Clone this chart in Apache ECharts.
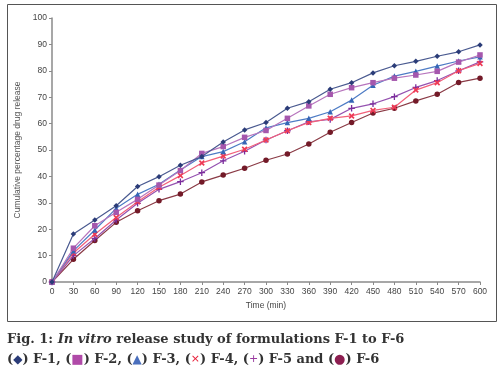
<!DOCTYPE html>
<html><head><meta charset="utf-8">
<script src="https://cdn.jsdelivr.net/npm/echarts@6/dist/echarts.min.js"></script>
<style>html,body{margin:0;padding:0;background:#fff}#c{width:500px;height:369px}</style>
</head><body><div id="c"></div>
<script>
var times = [0,30,60,90,120,150,180,210,240,270,300,330,360,390,420,450,480,510,540,570,600];
var F1 = [0,18.2,23.5,28.9,36.2,39.9,44.2,47.5,53.0,57.6,60.4,65.8,68.3,73.0,75.5,79.2,81.9,83.6,85.5,87.2,89.8];
var F2 = [0,12.8,21.3,26.4,31.3,36.7,42.2,48.7,51.3,54.8,57.4,62.0,66.7,71.1,73.6,75.5,77.2,78.4,79.8,83.3,86.0];
var F3 = [0,11.8,19.7,27.9,33.2,37.0,42.4,47.5,49.4,53.1,58.4,60.4,62.0,64.5,68.9,74.5,78.0,79.8,81.8,83.7,85.3];
var F4 = [0,11.0,18.1,24.4,30.4,35.9,40.3,45.1,47.7,50.3,53.8,57.3,60.4,62.0,62.9,65.0,66.2,72.7,75.5,80.0,82.8];
var F5 = [0,10.0,16.5,23.5,29.8,35.1,38.0,41.4,45.9,49.5,53.8,57.3,60.7,61.6,65.8,67.5,70.2,73.7,76.3,80.0,83.4];
var F6 = [0,8.6,15.7,22.6,27.0,30.8,33.3,37.9,40.5,43.1,46.1,48.5,52.3,56.7,60.4,64.0,65.8,68.6,71.1,75.6,77.2];
var names = ['F-1','F-2','F-3','F-4','F-5','F-6'];
var xTicks = {min:0,max:600,step:30};
var yTicks = {min:0,max:100,step:10};

var colors = ['#2b3c78','#a557ad','#3565b5','#ee3a55','#7b2d9c','#731a28'];
var lineColors = ['#4a5a90','#b775bd','#4e7cc5','#f2607a','#9552b0','#8a3a45'];
var symbols = ['diamond','rect','triangle',
  'path://M2,0 L5,3 L8,0 L10,2 L7,5 L10,8 L8,10 L5,7 L2,10 L0,8 L3,5 L0,2 Z',
  'path://M4,0H6V4H10V6H6V10H4V6H0V4H4Z','circle'];
var sizes = [5.5,5.5,5.5,6,6.5,5.5];
var all = [F1,F2,F3,F4,F5,F6];

var series = all.map(function(arr,i){
  return {
    name: names[i], type:'line', data: times.map(function(t,j){return [t,arr[j]];}),
    symbol: symbols[i], symbolSize: sizes[i], showSymbol:true,
    lineStyle:{color:lineColors[i], width:1.2},
    itemStyle:{color:colors[i]},
    z: 10-i, animation:false
  };
});

var chart = echarts.init(document.getElementById('c'));
chart.setOption({
  animation:false,
  grid:{left:52,right:20,top:18,bottom:87},
  xAxis:{type:'value',min:xTicks.min,max:xTicks.max,interval:xTicks.step,
    name:'Time (min)',nameLocation:'middle',nameGap:17,
    nameTextStyle:{fontFamily:'Liberation Sans',fontSize:8.5,color:'#444'},
    axisLine:{lineStyle:{color:'#8a8a8a',width:1.5}},
    axisTick:{length:3,lineStyle:{color:'#8a8a8a'}},
    axisLabel:{fontFamily:'Liberation Sans',fontSize:8.5,color:'#444',margin:5},
    splitLine:{show:false}},
  yAxis:{type:'value',min:yTicks.min,max:yTicks.max,interval:yTicks.step,
    name:'Cumulative percentage drug release',nameLocation:'middle',nameGap:30,
    nameTextStyle:{fontFamily:'Liberation Sans',fontSize:8.5,color:'#555'},
    axisLine:{show:true,lineStyle:{color:'#8a8a8a',width:1.5}},
    axisTick:{show:true,length:3,lineStyle:{color:'#8a8a8a'}},
    axisLabel:{fontFamily:'Liberation Sans',fontSize:8.5,color:'#444',margin:5},
    splitLine:{show:false}},
  series: series,
  graphic:[
    {type:'rect',shape:{x:7.5,y:4.5,width:489,height:317},style:{fill:'none',stroke:'#555',lineWidth:1},silent:true,z:-1},
    {type:'text',left:7,top:333,style:{
      text:'{b|Fig. 1: }{i|In vitro}{b| release study of formulations F-1 to F-6}',
      rich:{
        b:{fontFamily:'DejaVu Serif',fontWeight:'bold',fontSize:13,fill:'#333'},
        i:{fontFamily:'DejaVu Serif',fontWeight:'bold',fontStyle:'italic',fontSize:13,fill:'#333'}
      }}},
    {type:'text',left:7,top:353,style:{
      text:'{b|(}{s1|◆}{b|) F-1, (}{s2|■}{b|) F-2, (}{s3|▲}{b|) F-3, (}{s4|×}{b|) F-4, (}{s5|+}{b|) F-5 and (}{s6|●}{b|) F-6}',
      rich:{
        b:{fontFamily:'DejaVu Serif',fontWeight:'bold',fontSize:13,fill:'#333'},
        s1:{fontFamily:'DejaVu Sans',fontSize:12,fill:'#2b3c78'},
        s2:{fontFamily:'DejaVu Sans',fontSize:13,fill:'#b04aa8'},
        s3:{fontFamily:'DejaVu Sans',fontSize:12,fill:'#4a6fbd'},
        s4:{fontFamily:'DejaVu Sans',fontSize:11,fill:'#e8203a'},
        s5:{fontFamily:'DejaVu Sans',fontSize:11,fill:'#9a3aa0'},
        s6:{fontFamily:'DejaVu Sans',fontSize:13,fill:'#8c1e50'}
      }}}
  ]
});
</script></body></html>
